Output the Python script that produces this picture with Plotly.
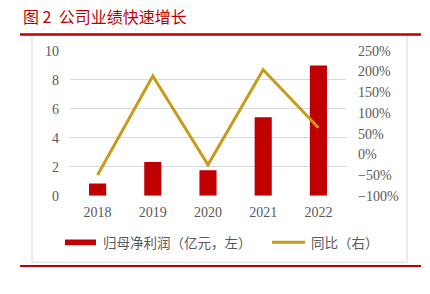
import plotly.graph_objects as go

years = ["2018", "2019", "2020", "2021", "2022"]
net_profit = [0.85, 2.33, 1.76, 5.42, 8.97]      # 归母净利润（亿元）
yoy = [-50, 189, -25, 204, 64]                   # 同比 (%)

W, H = 430, 294
RED = "#C00000"
GOLD = "#C69C1C"
GRAY_TXT = "#595959"

def px(x):
    return x / W

def py(y):
    return 1 - y / H

fig = go.Figure()
fig.add_trace(go.Bar(x=years, y=net_profit, marker=dict(color=RED, line=dict(width=0)),
                     width=0.31, name="归母净利润（亿元，左）", showlegend=False, yaxis="y"))
fig.add_trace(go.Scatter(x=years, y=yoy, mode="lines", line=dict(color=GOLD, width=3),
                         name="同比（右）", showlegend=False, yaxis="y2"))

tickfont = dict(family="Liberation Serif", size=14, color=GRAY_TXT)

fig.update_layout(
    width=W, height=H,
    margin=dict(l=0, r=0, t=0, b=0),
    paper_bgcolor="white", plot_bgcolor="white",
    xaxis=dict(domain=[px(70), px(346)], tickfont=tickfont, showgrid=False,
               showline=False, ticks="", ticklabelstandoff=6, fixedrange=True),
    yaxis=dict(domain=[py(199), py(46)], range=[0, 10], dtick=2, tickfont=tickfont,
               showgrid=True, gridcolor="#D9D9D9", gridwidth=1, zeroline=False,
               showline=False, ticks="", ticklabelstandoff=10),
    yaxis2=dict(overlaying="y", side="right", range=[-100, 250], dtick=50,
                ticksuffix="%", tickfont=tickfont, showgrid=False, zeroline=False,
                showline=False, ticks="", ticklabelstandoff=11),
    shapes=[
        dict(type="rect", xref="paper", yref="paper", x0=px(32), x1=px(407),
             y0=py(269), y1=py(29), line=dict(color="#D9D9D9", width=1)),
        dict(type="line", xref="paper", yref="paper", x0=px(20), x1=px(421),
             y0=py(29), y1=py(29), line=dict(color=RED, width=2.5)),
        dict(type="line", xref="paper", yref="paper", x0=px(20), x1=px(421),
             y0=py(273), y1=py(273), line=dict(color=RED, width=2)),
        # legend symbols
        dict(type="rect", xref="paper", yref="paper", x0=px(65), x1=px(96),
             y0=py(251), y1=py(245), line=dict(width=0), fillcolor=RED),
        dict(type="line", xref="paper", yref="paper", x0=px(272), x1=px(305),
             y0=py(248), y1=py(248), line=dict(color=GOLD, width=3)),
    ],
    annotations=[
        dict(text="图 2  公司业绩快速增长", xref="paper", yref="paper", x=px(21), y=py(10),
             xanchor="left", yanchor="middle", showarrow=False,
             font=dict(family="Noto Sans CJK SC", size=16, color=RED)),
        dict(text="归母净利润（亿元，左）", xref="paper", yref="paper", x=px(101), y=py(248),
             xanchor="left", yanchor="middle", showarrow=False,
             font=dict(family="Noto Sans CJK SC", size=13.5, color=GRAY_TXT)),
        dict(text="同比（右）", xref="paper", yref="paper", x=px(309), y=py(248),
             xanchor="left", yanchor="middle", showarrow=False,
             font=dict(family="Noto Sans CJK SC", size=13.5, color=GRAY_TXT)),
    ],
)

fig.write_html("out.html", config={"displayModeBar": False},
               post_script="document.body.style.margin='0';document.body.style.overflow='hidden';")
